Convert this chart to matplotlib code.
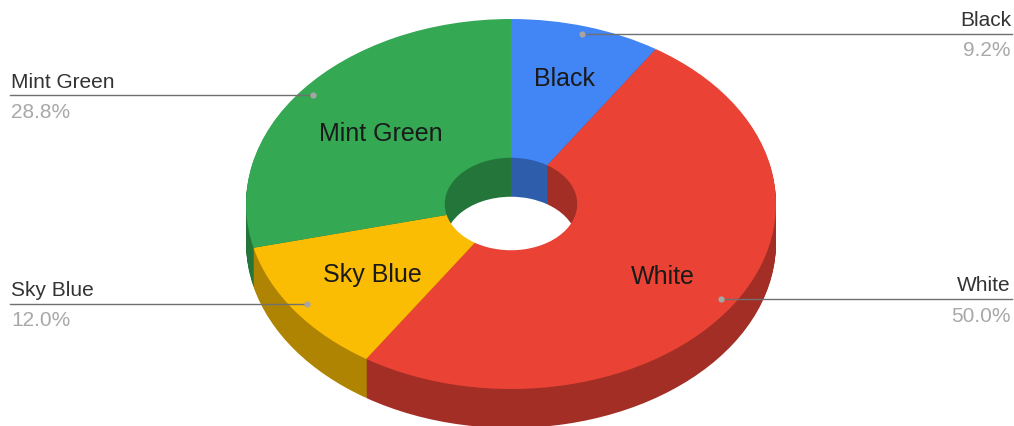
import matplotlib
matplotlib.use("Agg")
import matplotlib.pyplot as plt

plt.rcParams['font.family'] = ['Liberation Sans', 'DejaVu Sans']

#chart values, clockwise from the top
categories = ["Black", "White", "Sky Blue", "Mint Green"]
shares = [9.2, 50.0, 12.0, 28.8]
share_labels = ["9.2%", "50.0%", "12.0%", "28.8%"]

top_colors = ["#4285f4", "#ea4335", "#fbbc04", "#34a853"]
side_colors = ["#2e5dab", "#a32e25", "#b08403", "#24753a"]

#layout in reference pixels
W, H = 1014, 427
cx, cy = 511, 205
rx, ry = 265, 185
depth = 39


def fx(x):
    return x / W


def fy(y):
    return 1 - y / H


fig = plt.figure(figsize=(W / 100, H / 100), dpi=100)
ax = fig.add_axes([0, 0, 1, 1])

#stack rings from the bottom up so the walls show on the outside and in the hole
ring = dict(width=0.75, linewidth=0)
for k in range(depth, 0, -1):
    ax.pie(shares, colors=side_colors, startangle=90, counterclock=False,
           center=(0, -k / ry), wedgeprops=ring)
ax.pie(shares, colors=top_colors, startangle=90, counterclock=False, wedgeprops=ring)

#pie forces an equal aspect, stretch it to the flattened ellipse
ax.set_aspect('auto')
ax.set_xlim(-cx / rx, (W - cx) / rx)
ax.set_ylim((cy - H) / ry, cy / ry)
ax.axis('off')

#slice names
inner_pos = [(565, 79), (663, 277), (372, 275), (381, 134)]
for name, (x, y) in zip(categories, inner_pos):
    fig.text(fx(x), fy(y), name, fontsize=18, color="#1a1a1a", ha='center', va='center')

#leader lines: dot, line end on the figure side, text side
dots = [(582, 35), (721, 300), (307, 305), (313, 96)]
line_ends = [1012, 1012, 10, 10]
for name, pct, (x, y), end in zip(categories, share_labels, dots, line_ends):
    fig.add_artist(plt.Line2D([fx(x), fx(end)], [fy(y), fy(y)], color="#707070", lw=1.0))
    fig.add_artist(plt.Line2D([fx(x)], [fy(y)], marker='o', ms=4.5, color="#a5a5a5", mew=0))
    ha = 'right' if end > cx else 'left'
    tx = 1011 if end > cx else 11
    fig.text(fx(tx), fy(y - 14), name, fontsize=15, color="#333333", ha=ha, va='center')
    fig.text(fx(tx), fy(y + 16), pct, fontsize=15, color="#a8a8a8", ha=ha, va='center')

fig.savefig("out.png", dpi=100)
